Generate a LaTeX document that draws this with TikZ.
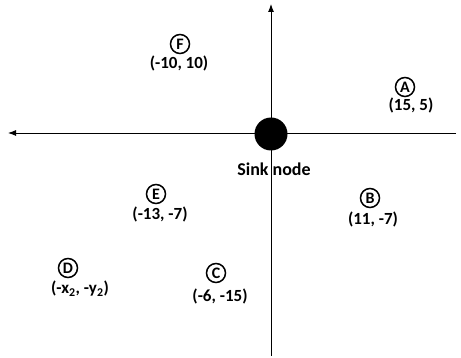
\documentclass[tikz,border=0pt]{standalone}
\usepackage{fontspec}
\setmainfont{Carlito}
\usetikzlibrary{arrows.meta}
\begin{document}
\begin{tikzpicture}[x=1pt,y=-1pt,
  pt/.style={circle,draw,line width=1.5pt,inner sep=0pt,minimum size=19pt,font=\bfseries\fontsize{16}{16}\selectfont},
  lbl/.style={inner sep=0pt,font=\bfseries\fontsize{17}{17}\selectfont},
  axis/.style={line width=0.9pt,-{Latex[length=8pt,width=6pt]}}]
\useasboundingbox (0,0) rectangle (461,358);
\coordinate (vb) at (271,356);
\coordinate (vt) at (271,4);
\coordinate (hr) at (456,133);
\coordinate (hl) at (8,133);
\draw[axis] (vb) -- (vt);
\draw[axis] (hr) -- (hl);
\node[circle,fill=black,minimum size=33pt,inner sep=0pt] (sink) at (271,134) {};
\node[lbl,font=\bfseries\fontsize{18}{18}\selectfont] (sinkl) at (274,169) {Sink node};
\node[pt] (F) at (180,44) {F};
\node[lbl] (Fl) at (179,63) {(-10, 10)};
\node[pt] (A) at (405,87) {A};
\node[lbl] (Al) at (411,105) {(15, 5)};
\node[pt] (E) at (156,194) {E};
\node[lbl] (El) at (160,214) {(-13, -7)};
\node[pt] (B) at (370,198) {B};
\node[lbl] (Bl) at (373,219) {(11, -7)};
\node[pt] (D) at (68,268) {D};
\node[lbl] (Dl) at (80,289) {(-x\textsubscript{2}, -y\textsubscript{2})};
\node[pt] (C) at (216,273) {C};
\node[lbl] (Cl) at (220,296) {(-6, -15)};
\end{tikzpicture}
\end{document}
